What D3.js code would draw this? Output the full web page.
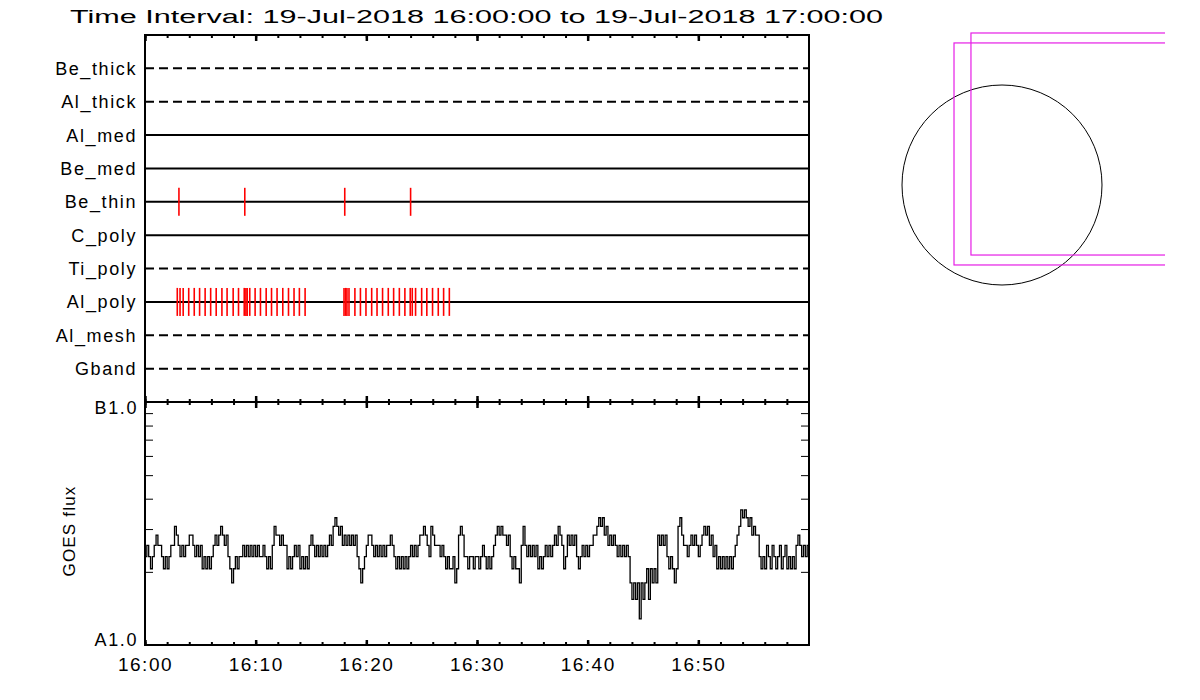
<!DOCTYPE html>
<html>
<head>
<meta charset="utf-8">
<script src="https://cdn.jsdelivr.net/npm/d3@7"></script>
<style>
  body { margin: 0; background: #fff; }
  svg { display: block; }
  text { font-family: "Liberation Sans", Arial, sans-serif; fill: #000; }
</style>
</head>
<body>
<div id="chart"></div>
<script>
// filter rows, top to bottom
var filters = ["Be_thick", "Al_thick", "Al_med", "Be_med", "Be_thin", "C_poly", "Ti_poly", "Al_poly", "Al_mesh", "Gband"];
var dashedRows = ["Be_thick", "Al_thick", "Ti_poly", "Al_mesh", "Gband"];

// exposure times (UT) per filter
var beThinTimes = ["16:03:04", "16:09:01", "16:18:03", "16:24:00"];
var alPolyTimes = [
  "16:02:55", "16:03:10", "16:03:27", "16:03:57", "16:04:27", "16:04:56", "16:05:26", "16:05:56",
  "16:06:26", "16:06:57", "16:07:25", "16:07:58", "16:08:27", "16:08:58", "16:09:07", "16:09:14",
  "16:09:28", "16:09:57", "16:10:26", "16:10:57", "16:11:26", "16:11:56", "16:12:27", "16:12:58",
  "16:13:28", "16:13:57", "16:14:28",
  "16:17:59", "16:18:08", "16:18:15", "16:18:26", "16:18:58", "16:19:28", "16:19:58", "16:20:29",
  "16:20:58", "16:21:28", "16:21:59", "16:22:28", "16:22:59", "16:23:29", "16:23:58", "16:24:09",
  "16:24:27", "16:25:00", "16:25:28", "16:25:59", "16:26:30", "16:26:59", "16:27:30"
];

// GOES flux, units of 1e-8 W/m^2, one sample every 10 s from 16:00:00
var goesStart = "16:00:00";
var goesStepSec = 10;
var goesFlux = [
  2.31,2.57,2.31,2.06,2.31,2.57,2.83,2.57,2.57,2.31, 2.06,2.31,2.06,2.31,2.57,2.57,3.08,2.83,2.57,2.31,
  2.57,2.31,2.57,2.57,2.83,2.83,2.57,2.31,2.57,2.31, 2.57,2.06,2.31,2.06,2.31,2.06,2.31,2.57,2.83,2.57,
  2.83,3.08,2.83,2.57,2.83,2.31,2.06,1.80,2.06,2.31, 2.06,2.31,2.31,2.57,2.31,2.57,2.31,2.57,2.31,2.57,
  2.31,2.57,2.31,2.31,2.57,2.31,2.06,2.31,2.06,2.57, 3.08,2.83,2.83,2.57,2.83,2.57,2.57,2.06,2.31,2.06,
  2.31,2.57,2.31,2.57,2.06,2.31,2.06,2.31,2.06,2.57, 2.83,2.57,2.31,2.57,2.31,2.57,2.31,2.57,2.31,2.57,
  2.83,2.57,3.08,3.34,3.08,2.83,3.08,2.57,2.83,2.57, 2.83,2.57,2.83,2.57,2.83,2.31,2.06,1.80,2.06,2.31,
  2.57,2.83,2.83,2.57,2.31,2.57,2.31,2.57,2.31,2.57, 2.31,2.57,2.57,2.83,2.57,2.31,2.06,2.31,2.06,2.31,
  2.06,2.31,2.06,2.31,2.57,2.31,2.57,2.31,2.57,2.83, 2.83,3.08,2.83,2.57,2.31,3.08,2.83,2.57,2.57,2.57,
  2.31,2.57,2.31,2.06,2.31,2.06,2.06,2.31,1.80,2.06, 2.83,3.08,2.83,2.31,2.31,2.06,2.31,2.31,2.06,2.31,
  2.31,2.06,2.31,2.57,2.31,2.06,2.31,2.06,2.31,2.57, 2.83,3.08,2.83,3.08,2.83,2.83,2.57,2.83,2.31,2.06,
  2.31,2.06,2.06,1.80,2.57,3.08,2.57,2.31,2.57,2.31, 2.57,2.31,2.57,2.06,2.31,2.06,2.31,2.57,2.31,2.57,
  2.31,2.57,2.83,2.57,3.08,2.83,2.57,2.06,2.31,2.83, 2.57,2.83,2.57,2.83,2.31,2.06,2.31,2.57,2.31,2.57,
  2.31,2.57,2.57,2.83,2.83,3.08,3.34,3.08,3.34,2.83, 3.08,2.57,2.83,2.57,2.83,2.57,2.31,2.57,2.31,2.57,
  2.31,2.57,2.31,1.80,1.54,1.80,1.54,1.80,1.28,1.80, 1.54,1.80,2.06,1.54,2.06,1.80,2.06,1.80,2.83,2.57,
  2.83,2.57,2.83,2.31,2.06,2.31,2.06,1.80,2.06,3.08, 3.34,2.83,2.57,2.57,2.31,2.57,2.83,2.57,2.83,2.57,
  2.31,2.57,2.83,3.08,2.83,3.08,2.57,2.83,2.31,2.57, 2.06,2.31,2.06,2.31,2.06,2.31,2.06,2.31,2.06,2.31,
  2.57,2.83,3.08,3.60,3.34,3.60,3.34,3.08,3.34,2.83, 3.08,2.83,2.83,2.31,2.06,2.31,2.06,2.57,2.31,2.06,
  2.57,2.31,2.06,2.31,2.57,2.06,2.31,2.57,2.06,2.31, 2.06,2.31,2.06,2.57,2.83,2.57,2.31,2.57,2.31,2.57
];
var fluxTicks = [2, 3, 4, 5, 6, 7, 8, 9];   // minor log ticks, 1e-8 units
var fluxLabels = [{v: 10, t: "B1.0"}, {v: 1, t: "A1.0"}];

// field of view panel (arcsec from sun centre)
var sunRadius = 944;
var fovBoxes = [
  {xc: 755, yc: 387, w: 2096, h: 2096},
  {xc: 595, yc: 293, w: 2096, h: 2096}
];

var titleText = "Time Interval: 19-Jul-2018 16:00:00 to 19-Jul-2018 17:00:00";

// ---------------------------------------------------------------
var W = 1200, H = 700;
var left = 145, right = 809, top1 = 35, mid = 402, bot = 645;

var svg = d3.select("#chart").append("svg")
  .attr("width", W).attr("height", H);

var parseT = d3.utcParse("%Y-%m-%d %H:%M:%S");
function tm(s) { return parseT("2018-07-19 " + s); }
var t0 = tm("16:00:00"), t1 = tm("17:00:00");

var x = d3.scaleUtc().domain([t0, t1]).range([left, right]);
var rowY = d3.scalePoint().domain(filters).range([top1, mid]).padding(1);
var y = d3.scaleLog().domain([1, 10]).range([bot, mid]);

var minorT = d3.utcMinute.every(2).range(t0, t1);
var majorT = d3.utcMinute.every(10).range(t0, t1);

// title
svg.append("text")
  .attr("x", 70).attr("y", 23)
  .attr("font-size", 18)
  .attr("textLength", 813)
  .attr("lengthAdjust", "spacingAndGlyphs")
  .text(titleText);

// ---- top panel: filter rows
svg.append("g").selectAll("line")
  .data(filters)
  .enter().append("line")
    .attr("x1", left).attr("x2", right)
    .attr("y1", function(d) { return rowY(d); })
    .attr("y2", function(d) { return rowY(d); })
    .attr("stroke", "#000")
    .attr("stroke-width", 2)
    .attr("stroke-dasharray", function(d) { return dashedRows.indexOf(d) >= 0 ? "9,5" : null; });

svg.append("g").selectAll("text")
  .data(filters)
  .enter().append("text")
    .attr("x", 137)
    .attr("y", function(d) { return rowY(d); })
    .attr("dy", "0.36em")
    .attr("text-anchor", "end")
    .attr("font-size", 18)
    .attr("letter-spacing", 1.6)
    .text(function(d) { return d; });

function drawMarks(times, row) {
  svg.append("g").selectAll("line")
    .data(times)
    .enter().append("line")
      .attr("x1", function(d) { return x(tm(d)); })
      .attr("x2", function(d) { return x(tm(d)); })
      .attr("y1", rowY(row) - 14)
      .attr("y2", rowY(row) + 14)
      .attr("stroke", "#ff0000")
      .attr("stroke-width", 1.6);
}
drawMarks(beThinTimes, "Be_thin");
drawMarks(alPolyTimes, "Al_poly");

// ---- GOES panel
var goesData = goesFlux.map(function(v, i) {
  return {t: d3.utcSecond.offset(tm(goesStart), i * goesStepSec), v: v};
});
goesData.push({t: d3.utcSecond.offset(tm(goesStart), goesFlux.length * goesStepSec - 2), v: goesFlux[goesFlux.length - 1]});

var line = d3.line()
  .x(function(d) { return x(d.t); })
  .y(function(d) { return y(d.v); })
  .curve(d3.curveStepAfter);

svg.append("path")
  .datum(goesData)
  .attr("d", line)
  .attr("fill", "none")
  .attr("stroke", "#000")
  .attr("stroke-width", 1.3);

// y ticks both sides
svg.append("g")
  .attr("transform", "translate(" + left + ",0)")
  .call(d3.axisLeft(y).tickValues(fluxTicks).tickSize(-8).tickFormat(""))
  .call(function(g) { g.select(".domain").remove(); });
svg.append("g")
  .attr("transform", "translate(" + right + ",0)")
  .call(d3.axisRight(y).tickValues(fluxTicks).tickSize(-8).tickFormat(""))
  .call(function(g) { g.select(".domain").remove(); });

svg.append("g").selectAll("text")
  .data(fluxLabels)
  .enter().append("text")
    .attr("x", 138)
    .attr("y", function(d) { return y(d.v) + (d.v > 5 ? 6 : -5); })
    .attr("dy", "0.36em")
    .attr("text-anchor", "end")
    .attr("font-size", 18)
    .attr("letter-spacing", 1.6)
    .text(function(d) { return d.t; });

svg.append("text")
  .attr("transform", "translate(75,531) rotate(-90)")
  .attr("text-anchor", "middle")
  .attr("font-size", 17)
  .attr("letter-spacing", 1.2)
  .text("GOES flux");

// ---- time ticks on the horizontal edges
function timeTicks(yPos, dir, minorLen, majorLen) {
  var ax = dir > 0 ? d3.axisBottom(x) : d3.axisTop(x);
  svg.append("g")
    .attr("transform", "translate(0," + yPos + ")")
    .call(ax.tickValues(minorT).tickSize(minorLen).tickFormat(""))
    .call(function(g) { g.select(".domain").remove(); g.selectAll("line").attr("stroke-width", 2); });
  var ax2 = dir > 0 ? d3.axisBottom(x) : d3.axisTop(x);
  svg.append("g")
    .attr("transform", "translate(0," + yPos + ")")
    .call(ax2.tickValues(majorT).tickSize(majorLen).tickFormat(""))
    .call(function(g) { g.select(".domain").remove(); g.selectAll("line").attr("stroke-width", 2.5); });
}
timeTicks(top1, 1, 3, 6);
timeTicks(mid, -1, 3, 6);
timeTicks(mid, 1, 3, 6);
timeTicks(bot, -1, 3, 5);

// tick labels
svg.append("g")
  .attr("transform", "translate(0," + bot + ")")
  .call(d3.axisBottom(x).tickValues(majorT).tickSize(0).tickPadding(13).tickFormat(d3.utcFormat("%H:%M")))
  .call(function(g) {
    g.select(".domain").remove();
    g.selectAll("text").attr("font-size", 19).attr("letter-spacing", 1.5)
      .attr("font-family", "Liberation Sans, Arial, sans-serif");
  });

// frames
svg.append("rect")
  .attr("x", left).attr("y", top1)
  .attr("width", right - left).attr("height", mid - top1)
  .attr("fill", "none").attr("stroke", "#000").attr("stroke-width", 2);
svg.append("rect")
  .attr("x", left).attr("y", mid)
  .attr("width", right - left).attr("height", bot - mid)
  .attr("fill", "none").attr("stroke", "#000").attr("stroke-width", 2);

// ---- field of view panel
var sx = d3.scaleLinear().domain([-sunRadius, sunRadius]).range([902, 1102]);
var sy = d3.scaleLinear().domain([-sunRadius, sunRadius]).range([285, 85]);

svg.append("clipPath").attr("id", "fovclip")
  .append("rect").attr("x", 880).attr("y", 10).attr("width", 285).attr("height", 300);

var fov = svg.append("g").attr("clip-path", "url(#fovclip)");
fov.append("circle")
  .attr("cx", sx(0)).attr("cy", sy(0))
  .attr("r", sx(sunRadius) - sx(0))
  .attr("fill", "none").attr("stroke", "#000").attr("stroke-width", 1);
fov.selectAll("rect.box")
  .data(fovBoxes)
  .enter().append("rect")
    .attr("class", "box")
    .attr("x", function(d) { return sx(d.xc - d.w / 2); })
    .attr("y", function(d) { return sy(d.yc + d.h / 2); })
    .attr("width", function(d) { return sx(d.w) - sx(0); })
    .attr("height", function(d) { return sy(0) - sy(d.h); })
    .attr("fill", "none")
    .attr("stroke", "#e61ee6")
    .attr("stroke-width", 1.2);
</script>
</body>
</html>
